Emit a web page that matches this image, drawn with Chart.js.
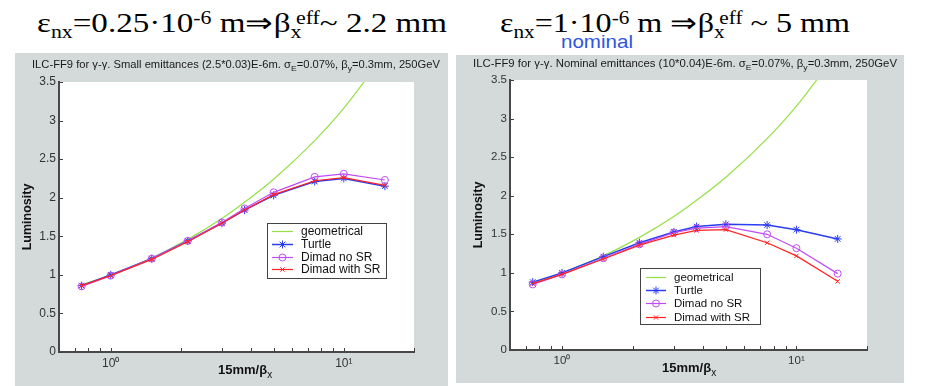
<!DOCTYPE html>
<html><head><meta charset="utf-8">
<script src="https://cdn.jsdelivr.net/npm/chart.js@4.4.0/dist/chart.umd.min.js"></script>
<style>
html,body{margin:0;padding:0;background:#fff;}
#wrap{position:relative;width:926px;height:386px;overflow:hidden;background:#fff;font-family:"Liberation Sans",Arial,sans-serif;}
canvas{position:absolute;background:#d4dada;}
.hd{position:absolute;font-family:"Liberation Serif","Times New Roman",serif;font-size:27px;line-height:27px;white-space:nowrap;color:#000;transform-origin:0 0;z-index:2;}
.hd sub{font-size:0.66em;vertical-align:-0.36em;line-height:0;}
.hd sup{font-size:0.66em;vertical-align:0.45em;line-height:0;}
.nom{position:absolute;font-family:"Liberation Sans",Arial,sans-serif;font-size:19px;line-height:19px;color:#2f55e0;white-space:nowrap;transform-origin:0 0;z-index:2;}
.tt{position:absolute;font-size:10.5px;line-height:12px;white-space:nowrap;color:#1a1a1a;transform-origin:0 0;z-index:2;}
.tt sub{font-size:8px;vertical-align:-3px;line-height:0;}
.xl{position:absolute;font-weight:bold;font-size:13px;line-height:13px;white-space:nowrap;color:#111;z-index:2;}
.xl sub{font-size:10px;vertical-align:-4px;line-height:0;font-weight:normal;}
</style>
</head><body>
<div id="wrap">
  <div class="hd fit" data-w="410" style="left:37px;top:10px">ε<sub>nx</sub>=0.25·10<sup>-6</sup> m⇒β<sub>x</sub><sup style="margin-left:-0.25em">eff</sup>~ 2.2 mm</div>
  <div class="hd fit" data-w="350" style="left:500px;top:10px">ε<sub>nx</sub>=1·10<sup>-6</sup> m ⇒β<sub>x</sub><sup style="margin-left:-0.25em">eff</sup> ~ 5 mm</div>
  <div class="nom fit" data-w="72" style="left:561px;top:32px">nominal</div>

  <canvas id="cL" width="433" height="333" style="left:15px;top:53px"></canvas>
  <canvas id="cR" width="448" height="328" style="left:456px;top:55px"></canvas>

  <div class="tt fit" data-w="408" style="left:32px;top:58px">ILC-FF9 for γ-γ. Small emittances (2.5*0.03)E-6m. σ<sub>E</sub>=0.07%, β<sub>y</sub>=0.3mm, 250GeV</div>
  <div class="tt fit" data-w="424" style="left:473px;top:57px">ILC-FF9 for γ-γ. Nominal emittances (10*0.04)E-6m. σ<sub>E</sub>=0.07%, β<sub>y</sub>=0.3mm, 250GeV</div>

  <div class="xl" style="left:218px;top:363px">15mm/β<sub>x</sub></div>
  <div class="xl" style="left:662px;top:361px">15mm/β<sub>x</sub></div>
</div>
<script>
// ---------- data ----------
const xValues = [0.75, 1, 1.5, 2.14, 3, 3.75, 5, 7.5, 10, 15];           // 15mm / beta_x
const seriesLabels = ['geometrical', 'Turtle', 'Dimad no SR', 'Dimad with SR'];

// left panel: small emittances
const geomLeft    = [0.87, 1.00, 1.22, 1.46, 1.73, 1.94, 2.24, 2.74, 3.16, 3.87];
const turtleLeft  = [0.86, 1.00, 1.21, 1.44, 1.67, 1.84, 2.03, 2.21, 2.25, 2.15];
const noSRLeft    = [0.85, 0.99, 1.21, 1.44, 1.68, 1.86, 2.07, 2.27, 2.31, 2.23];
const withSRLeft  = [0.86, 0.99, 1.20, 1.43, 1.67, 1.84, 2.04, 2.22, 2.26, 2.16];

// right panel: nominal emittances
const geomRight   = [0.87, 1.00, 1.22, 1.46, 1.73, 1.94, 2.24, 2.74, 3.16, 3.87];
const turtleRight = [0.88, 1.00, 1.21, 1.39, 1.53, 1.60, 1.63, 1.62, 1.56, 1.44];
const noSRRight   = [0.85, 0.98, 1.19, 1.37, 1.52, 1.58, 1.60, 1.50, 1.32, 0.99];
const withSRRight = [0.86, 0.98, 1.18, 1.36, 1.49, 1.55, 1.56, 1.39, 1.22, 0.89];

const xTickValues  = [0.7, 0.8, 0.9, 1, 2, 3, 4, 5, 6, 7, 8, 9, 10, 20];
const xMajorValues = [1, 10];
const xMajorLabels = ['10⁰', '10¹'];
const yTickValues  = [0, 0.5, 1, 1.5, 2, 2.5, 3, 3.5];
const yTickLabels  = ['0', '0.5', '1', '1.5', '2', '2.5', '3', '3.5'];

// ---------- styling ----------
const styles = [
  {color:'#96e046', width:1.2, pointStyle:false, radius:0, order:4},
  {color:'#2a3df0', width:1.5, pointStyle:'star', radius:4, order:3},
  {color:'#c14cf5', width:1.2, pointStyle:'circle', radius:3.5, order:2},
  {color:'#ff2222', width:1.2, pointStyle:'crossRot', radius:3, order:1}
];
const FONT = '"Liberation Sans", Arial, sans-serif';

function toPts(arr){ return xValues.map((x,i)=>({x:x, y:arr[i]})); }

const decoPlugin = {
  id:'deco',
  beforeDraw(chart){
    const {ctx, chartArea:a} = chart;
    ctx.save(); ctx.fillStyle='#ffffff';
    ctx.fillRect(a.left, a.top, a.right-a.left, a.bottom-a.top);
    ctx.restore();
  },
  afterDraw(chart){
    const {ctx, chartArea:a, scales} = chart;
    const o = chart.options.plugins.deco;
    ctx.save();
    ctx.strokeStyle='#404040'; ctx.lineWidth=1;
    scales.y.ticks.forEach(t=>{
      const py=Math.round(scales.y.getPixelForValue(t.value))+0.5;
      ctx.beginPath(); ctx.moveTo(a.left,py); ctx.lineTo(a.left+4,py); ctx.stroke();
    });
    scales.x.ticks.forEach(t=>{
      const px=Math.round(scales.x.getPixelForValue(t.value))+0.5;
      ctx.beginPath(); ctx.moveTo(px,a.bottom); ctx.lineTo(px,a.bottom-4); ctx.stroke();
    });
    // legend box
    const L = o.legend;
    ctx.fillStyle='#ffffff'; ctx.fillRect(L.x, L.y, L.w, L.h);
    ctx.strokeStyle='#444'; ctx.lineWidth=1; ctx.strokeRect(L.x+0.5, L.y+0.5, L.w, L.h);
    ctx.font = L.font + 'px ' + FONT;
    ctx.textBaseline='middle'; ctx.textAlign='left';
    chart.data.datasets.forEach((ds,i)=>{
      const ry = Math.round(L.y + L.row0 + i*L.dy) + 0.5;
      ctx.strokeStyle = ds.borderColor; ctx.lineWidth = ds.borderWidth;
      ctx.beginPath(); ctx.moveTo(L.x+L.l0, ry); ctx.lineTo(L.x+L.l1, ry); ctx.stroke();
      if (ds.pointStyle && ds.pointRadius>0){
        ctx.fillStyle='rgba(0,0,0,0)'; ctx.strokeStyle=ds.borderColor; ctx.lineWidth=1;
        Chart.helpers.drawPoint(ctx, {pointStyle:ds.pointStyle, radius:ds.pointRadius, rotation:0, borderWidth:1}, L.x+(L.l0+L.l1)/2, ry);
      }
      ctx.fillStyle='#111';
      ctx.fillText(ds.label, L.x+L.tx, ry);
    });
    ctx.restore();
  }
};

function makeChart(id, series, lay){
  const datasets = series.map((arr,i)=>({
    label: seriesLabels[i],
    data: toPts(arr),
    borderColor: styles[i].color,
    backgroundColor: 'rgba(0,0,0,0)',
    borderWidth: styles[i].width,
    pointStyle: styles[i].pointStyle,
    pointRadius: styles[i].radius,
    pointBorderWidth: 1,
    pointBorderColor: styles[i].color,
    pointBackgroundColor: 'rgba(0,0,0,0)',
    cubicInterpolationMode: i===0 ? 'monotone' : 'default',
    order: styles[i].order
  }));
  return new Chart(document.getElementById(id), {
    type:'line',
    data:{datasets},
    plugins:[decoPlugin],
    options:{
      responsive:false, animation:false, devicePixelRatio:1,
      layout:{padding:{top:lay.top, right:lay.right, left:0, bottom:0}},
      plugins:{
        legend:{display:false}, tooltip:{enabled:false}, title:{display:false},
        deco:{legend:lay.legend}
      },
      scales:{
        x:{
          type:'logarithmic', min:0.6, max:20,
          grid:{display:false, drawTicks:false},
          border:{display:true, color:'#484848', width:2},
          afterBuildTicks(s){ s.ticks = xTickValues.map(v=>({value:v})); },
          afterFit(s){ s.height = lay.xh; },
          ticks:{
            autoSkip:false, maxRotation:0, padding:4, color:'#333',
            font:{family:FONT, size:lay.tickFont},
            callback(v){ const k = xMajorValues.indexOf(v); return k>=0 ? xMajorLabels[k] : ''; }
          }
        },
        y:{
          type:'linear', min:yTickValues[0], max:yTickValues[yTickValues.length-1],
          grid:{display:false, drawTicks:false},
          border:{display:true, color:'#484848', width:2},
          afterBuildTicks(s){ s.ticks = yTickValues.map(v=>({value:v})); },
          afterFit(s){ s.width = lay.yw; },
          ticks:{padding:3, color:'#333', font:{family:FONT, size:lay.tickFont},
                 callback(v){ const k = yTickValues.indexOf(v); return k>=0 ? yTickLabels[k] : ''; }},
          title:{display:true, text:'Luminosity', color:'#111',
                 font:{family:FONT, size:12.5, weight:'bold', lineHeight:1.2},
                 padding:{top:lay.ytPad, bottom:0}}
        }
      }
    }
  });
}

makeChart('cL', [geomLeft, turtleLeft, noSRLeft, withSRLeft], {
  top:29, right:34, yw:44, xh:34, tickFont:12, ytPad:5,
  legend:{x:252, y:170, w:119, h:55, row0:8.3, dy:12.7, l0:5, l1:26, tx:34, font:12}
});
makeChart('cR', [geomRight, turtleRight, noSRRight, withSRRight], {
  top:25, right:37, yw:54, xh:33, tickFont:11.5, ytPad:15,
  legend:{x:184, y:213, w:120, h:56, row0:8.7, dy:13.3, l0:6, l1:26, tx:34, font:11.5}
});

// horizontally fit texts to the reference widths
document.querySelectorAll('.fit').forEach(el=>{
  el.style.transform='none';
  const w = el.getBoundingClientRect().width;
  const target = parseFloat(el.dataset.w);
  if (w>0) el.style.transform = 'scaleX(' + (target/w) + ')';
});
</script>
</body></html>
